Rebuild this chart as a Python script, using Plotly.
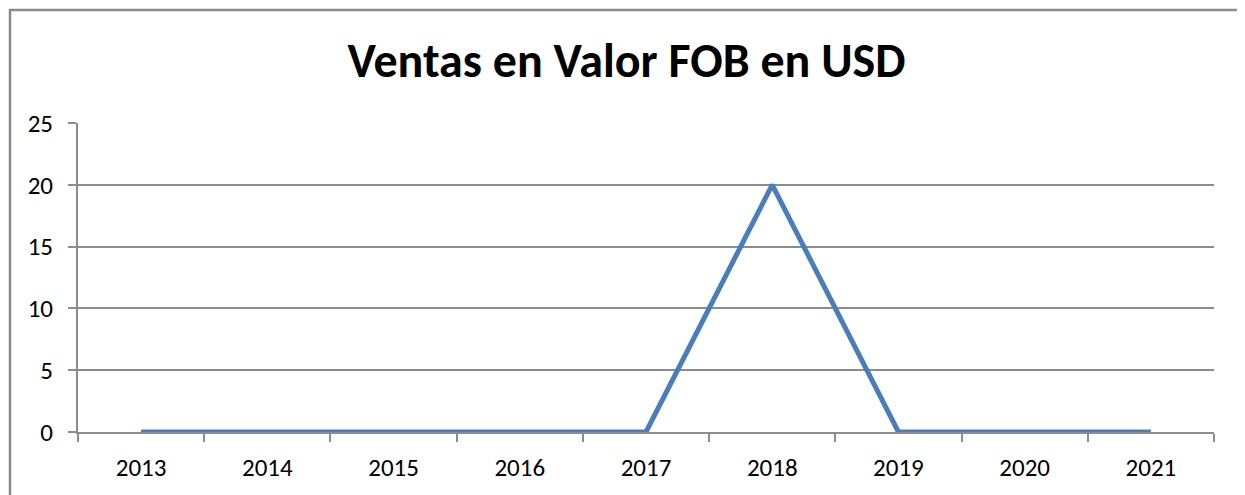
import plotly.graph_objects as go

years = ["2013", "2014", "2015", "2016", "2017", "2018", "2019", "2020", "2021"]
ventas = [0, 0, 0, 0, 0, 20, 0, 0, 0]
y_ticks = [0, 5, 10, 15, 20, 25]

OFF = 8  # page body margin
W, H = 1245 - OFF, 495 - OFF
L, R, T, B = 78 - OFF, 31, 123 - OFF, 63
pw, ph = W - L - R, H - T - B

def px_x(x):
    return (x - OFF - L) / pw

def px_y(y):
    return (H - B - (y - OFF)) / ph

fig = go.Figure()
fig.add_trace(go.Scatter(
    x=years, y=ventas, mode="lines",
    line=dict(color="#4A7EBB", width=5),
    hoverinfo="x+y",
))

grid = "#8C8C8C"
fig.update_layout(
    width=W, height=H,
    margin=dict(l=L, r=R, t=T, b=B),
    paper_bgcolor="white", plot_bgcolor="white",
    showlegend=False,
    font=dict(family="Carlito, Lato, sans-serif", color="black"),
    title=dict(text="<b>Ventas en Valor FOB en USD</b>", x=0.5, xanchor="center",
               y=1 - (60 - OFF) / H, yanchor="middle",
               font=dict(size=48, family="Carlito, Lato, sans-serif", color="black")),
    xaxis=dict(
        type="category", categoryorder="array", categoryarray=years,
        range=[-0.5, 8.5],
        tickson="boundaries", ticks="outside", ticklen=8, tickwidth=2, tickcolor=grid,
        showline=True, linecolor=grid, linewidth=2,
        showgrid=False, zeroline=False,
        tickfont=dict(size=25), ticklabelstandoff=12,
    ),
    yaxis=dict(
        range=[0, 25], tickvals=y_ticks,
        ticks="outside", ticklen=8, tickwidth=2, tickcolor=grid,
        showline=True, linecolor=grid, linewidth=2,
        showgrid=True, gridcolor=grid, gridwidth=2,
        zeroline=False,
        tickfont=dict(size=25), ticklabelstandoff=10,
    ),
    shapes=[dict(
        type="rect", xref="paper", yref="paper",
        x0=px_x(10), x1=px_x(1242), y0=px_y(510), y1=px_y(10),
        line=dict(color="#8C8C8C", width=2.5), layer="below",
    )],
)

fig.write_html("out.html")
